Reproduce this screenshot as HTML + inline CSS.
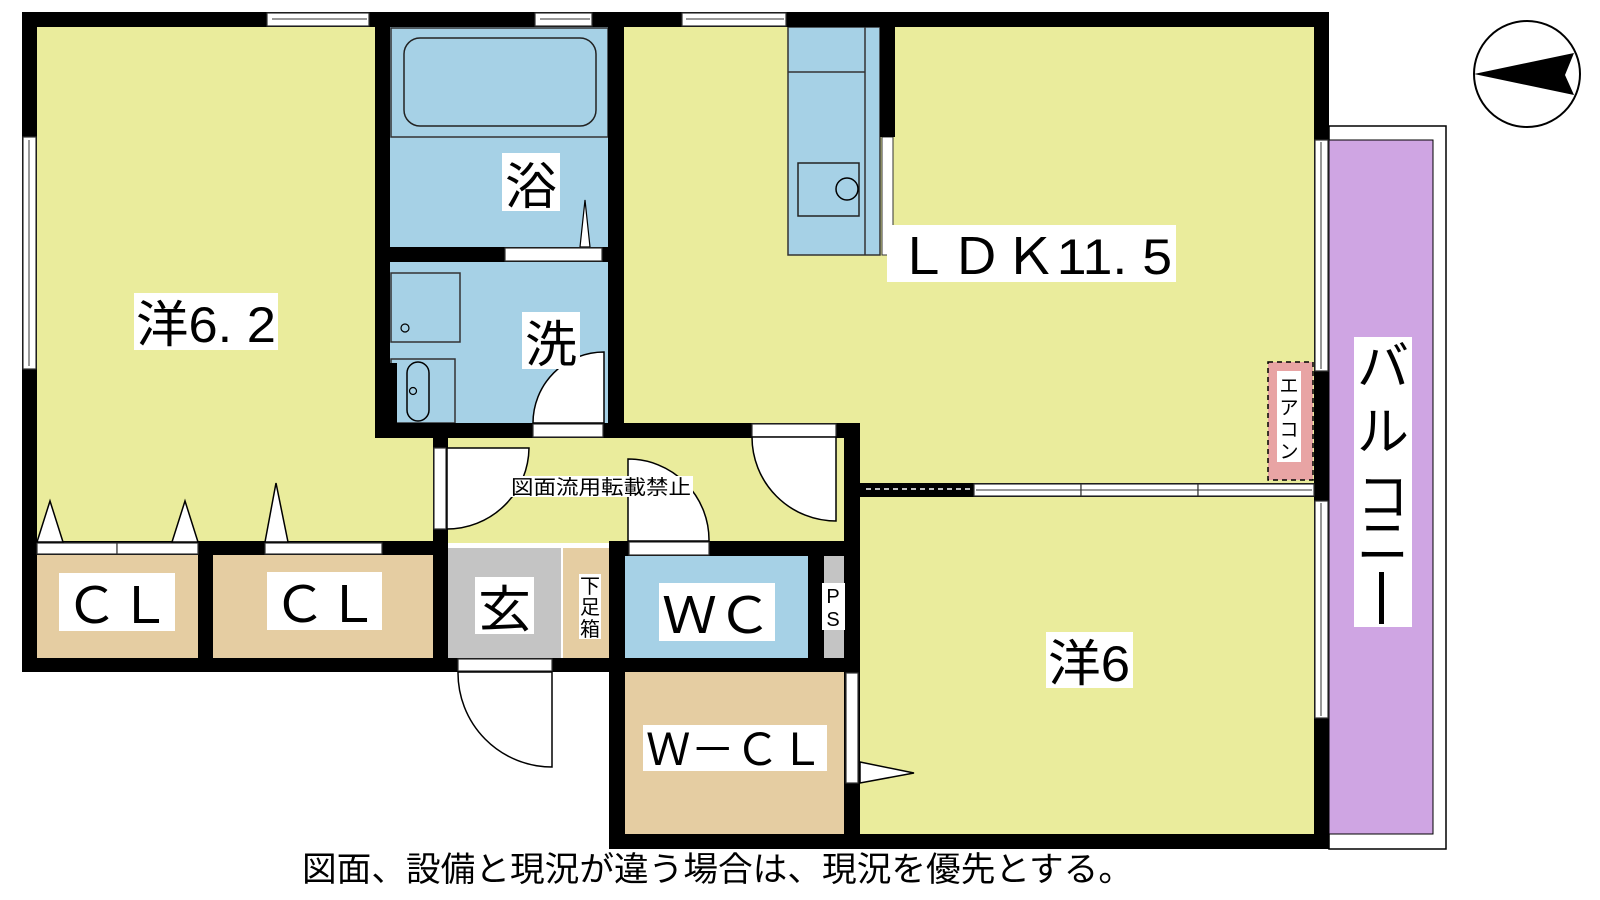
<!DOCTYPE html>
<html><head><meta charset="utf-8"><style>
html,body{margin:0;padding:0;background:#fff;}
svg{display:block;}
text{font-family:"Liberation Sans","Noto Sans CJK JP",sans-serif;fill:#000;}
</style></head><body>
<svg width="1600" height="900" viewBox="0 0 1600 900" xmlns="http://www.w3.org/2000/svg">
<rect x="1329" y="126" width="117" height="723" fill="#fff" stroke="#000" stroke-width="1.5"/>
<rect x="1329" y="140" width="104" height="694" fill="#cfa5e3" stroke="#000" stroke-width="1"/>
<rect x="37" y="27" width="338" height="515" fill="#eaec9c"/>
<rect x="375" y="423" width="485" height="120" fill="#eaec9c"/>
<rect x="624" y="27" width="690" height="460" fill="#eaec9c"/>
<rect x="860" y="490" width="454" height="345" fill="#eaec9c"/>
<rect x="390" y="27" width="218" height="396" fill="#a6d1e6"/>
<rect x="37" y="555" width="396" height="103" fill="#e5cda2"/>
<rect x="448" y="548" width="113" height="110" fill="#c4c4c4"/>
<rect x="563" y="548" width="47" height="110" fill="#e5cda2"/>
<rect x="625" y="556" width="183" height="102" fill="#a6d1e6"/>
<rect x="824" y="556" width="20" height="102" fill="#c4c4c4"/>
<rect x="625" y="672" width="220" height="163" fill="#e5cda2"/>
<rect x="788" y="27" width="92" height="228" fill="#a6d1e6" stroke="#333" stroke-width="1.5"/>
<line x1="865" y1="27" x2="865" y2="255" stroke="#333" stroke-width="1.5"/>
<line x1="788" y1="72" x2="865" y2="72" stroke="#333" stroke-width="1.5"/>
<rect x="798" y="163" width="61" height="53" fill="none" stroke="#222" stroke-width="1.5"/>
<circle cx="847" cy="189" r="11" fill="none" stroke="#000" stroke-width="1.5"/>
<rect x="882" y="137" width="11" height="118" fill="#fff" stroke="#333" stroke-width="1"/>
<rect x="391" y="28" width="217" height="109" fill="none" stroke="#333" stroke-width="1.5"/>
<rect x="404" y="38" width="192" height="88" rx="16" fill="none" stroke="#222" stroke-width="1.5"/>
<rect x="391" y="273" width="69" height="69" fill="none" stroke="#333" stroke-width="1.5"/>
<circle cx="405" cy="328" r="4" fill="none" stroke="#000" stroke-width="1.2"/>
<rect x="391" y="359" width="64" height="64" fill="none" stroke="#333" stroke-width="1.5"/>
<rect x="390" y="363" width="7" height="60" fill="#000"/>
<rect x="407" y="362" width="22" height="59" rx="11" fill="none" stroke="#000" stroke-width="1.5"/>
<circle cx="413" cy="391" r="3.5" fill="none" stroke="#000" stroke-width="1.2"/>
<polygon points="585,200 580,247 590,247" fill="#fff" stroke="#000" stroke-width="1.2"/>
<g fill="#000">
<rect x="22" y="12" width="1307" height="15"/>
<rect x="22" y="12" width="15" height="660"/>
<rect x="375" y="12" width="15" height="426"/>
<rect x="608" y="12" width="16" height="426"/>
<rect x="880" y="12" width="15" height="125"/>
<rect x="1314" y="12" width="15" height="837"/>
<rect x="390" y="247" width="218" height="15"/>
<rect x="375" y="423" width="485" height="15"/>
<rect x="433" y="423" width="15" height="249"/>
<rect x="844" y="423" width="16" height="426"/>
<rect x="22" y="541" width="426" height="14"/>
<rect x="198" y="541" width="15" height="131"/>
<rect x="22" y="658" width="838" height="14"/>
<rect x="609" y="541" width="251" height="15"/>
<rect x="609" y="541" width="16" height="308"/>
<rect x="808" y="541" width="16" height="131"/>
<rect x="609" y="834" width="720" height="15"/>
<rect x="860" y="483" width="454" height="14"/>
</g>
<g fill="#fff" stroke="#333" stroke-width="1.2">
<rect x="267" y="13" width="102" height="13"/>
<rect x="535" y="13" width="57" height="13"/>
<rect x="682" y="13" width="104" height="13"/>
<rect x="23" y="137" width="13" height="232"/>
<rect x="1315" y="140" width="13" height="231"/>
<rect x="1315" y="501" width="13" height="217"/>
<rect x="505" y="248" width="97" height="13"/>
<rect x="533" y="424" width="70" height="13"/>
<rect x="752" y="424" width="84" height="13"/>
<rect x="37" y="543" width="80" height="11"/>
<rect x="117" y="543" width="81" height="11"/>
<rect x="265" y="543" width="117" height="11"/>
<rect x="629" y="542" width="80" height="13"/>
<rect x="458" y="659" width="94" height="12"/>
<rect x="846" y="673" width="12" height="110"/>
<rect x="974" y="484" width="107" height="12"/>
<rect x="1081" y="484" width="117" height="12"/>
<rect x="1198" y="484" width="116" height="12"/>
<rect x="434" y="448" width="12" height="81"/>
</g>
<line x1="272" y1="19" x2="367" y2="19" stroke="#333" stroke-width="1"/>
<line x1="540" y1="19" x2="590" y2="19" stroke="#333" stroke-width="1"/>
<line x1="686" y1="19" x2="784" y2="19" stroke="#333" stroke-width="1"/>
<line x1="29" y1="140" x2="29" y2="366" stroke="#333" stroke-width="1"/>
<line x1="1321" y1="142" x2="1321" y2="369" stroke="#333" stroke-width="1"/>
<line x1="1321" y1="503" x2="1321" y2="716" stroke="#333" stroke-width="1"/>
<line x1="976" y1="490" x2="1312" y2="490" stroke="#333" stroke-width="1"/>
<line x1="866" y1="489" x2="972" y2="489" stroke="#fff" stroke-width="1.5" stroke-dasharray="5,4"/>
<g fill="#fff" stroke="#000" stroke-width="1.5">
<path d="M604,352 A71,71 0 0 0 533,423 L604,423 Z"/>
<path d="M447,448 L529,448 A82,82 0 0 1 447,529 Z"/>
<path d="M628,459 A81,81 0 0 1 709,541 L628,541 Z"/>
<path d="M752,437 A84,84 0 0 0 836,521 L836,437 Z"/>
<path d="M458,672 A94,94 0 0 0 552,767 L552,672 Z"/>
<polygon points="37,542 50,501 63,542"/>
<polygon points="172,542 185,501 198,542"/>
<polygon points="265,542 276,483 288,542"/>
<polygon points="860,762 914,773 860,783"/>
</g>
<rect x="1268" y="362" width="45" height="118" fill="#e8a4a4" stroke="#000" stroke-width="1.5" stroke-dasharray="5,4"/>
<rect x="1277" y="371" width="24" height="91" fill="#fff"/>
<g font-size="19" text-anchor="middle">
<text x="1289" y="392">エ</text><text x="1289" y="414">ア</text><text x="1289" y="436">コ</text><text x="1289" y="458">ン</text>
</g>
<circle cx="1527" cy="74" r="53" fill="#fff" stroke="#000" stroke-width="2"/>
<polygon points="1474,74 1574,53 1565,75 1574,95" fill="#000"/>
<g fill="#fff">
<rect x="502" y="153" width="58" height="58"/>
<rect x="522" y="312" width="58" height="57"/>
<rect x="134" y="293" width="144" height="57"/>
<rect x="887" y="225" width="289" height="57"/>
<rect x="1354" y="337" width="58" height="290"/>
<rect x="1046" y="632" width="87" height="56"/>
<rect x="59" y="573" width="116" height="58"/>
<rect x="267" y="572" width="115" height="58"/>
<rect x="475" y="577" width="59" height="57"/>
<rect x="579" y="574" width="22" height="65"/>
<rect x="659" y="583" width="116" height="58"/>
<rect x="822" y="583" width="23" height="47"/>
<rect x="643" y="725" width="184" height="46"/>
<rect x="510" y="476" width="183" height="21"/>
</g>
<g font-size="50">
<text x="505" y="204" textLength="52" lengthAdjust="spacingAndGlyphs">浴</text>
<text x="525" y="362" textLength="52" lengthAdjust="spacingAndGlyphs">洗</text>
<text x="136" y="342" textLength="140" lengthAdjust="spacingAndGlyphs">洋6. 2</text>
<text x="896" y="274" textLength="276" lengthAdjust="spacingAndGlyphs">ＬＤＫ11. 5</text>
<text x="1048" y="681" textLength="82" lengthAdjust="spacingAndGlyphs">洋6</text>
<text x="65" y="623" textLength="106" lengthAdjust="spacingAndGlyphs">ＣＬ</text>
<text x="273" y="622" textLength="106" lengthAdjust="spacingAndGlyphs">ＣＬ</text>
<text x="478" y="627" textLength="53" lengthAdjust="spacingAndGlyphs">玄</text>
<text x="662" y="633" textLength="110" lengthAdjust="spacingAndGlyphs">ＷＣ</text>
</g>
<text x="646" y="765" font-size="44" textLength="178" lengthAdjust="spacingAndGlyphs">Ｗ－ＣＬ</text>
<g font-size="52" text-anchor="middle">
<text x="1383" y="385">バ</text><text x="1383" y="450">ル</text><text x="1383" y="515">コ</text><text x="1383" y="560">ニ</text>
</g>
<rect x="1379" y="572" width="5" height="52" fill="#000"/>
<g font-size="20" text-anchor="middle">
<text x="590" y="593">下</text><text x="590" y="614">足</text><text x="590" y="636">箱</text>
</g>
<g font-size="20" text-anchor="middle">
<text x="833" y="603">P</text><text x="833" y="626">S</text>
</g>
<text x="511" y="494" font-size="20" textLength="180" lengthAdjust="spacingAndGlyphs">図面流用転載禁止</text>
<text x="302" y="881" font-size="34" textLength="831" lengthAdjust="spacingAndGlyphs">図面、設備と現況が違う場合は、現況を優先とする。</text>
</svg>
</body></html>
